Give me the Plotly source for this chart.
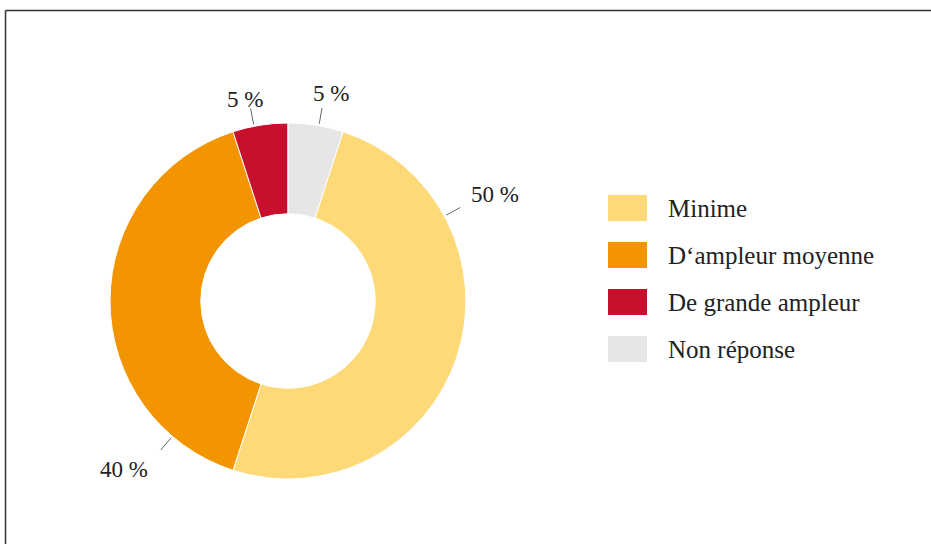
import math
import plotly.graph_objects as go

# ---- data -------------------------------------------------------------
labels = ["Minime", "D\u2018ampleur moyenne", "De grande ampleur", "Non réponse"]
values = [50, 40, 5, 5]
colors = ["#FDD978", "#F29500", "#C8102E", "#E6E6E6"]

# ---- layout constants -------------------------------------------------
W, H = 931, 544
CX, CY, R = 288, 301, 178          # ring centre and outer radius (px)
FONT = "Liberation Serif, Times New Roman, serif"
TEXT_COLOR = "#222222"

# value labels: angle (deg, clockwise from 12 o'clock) and radius of the text centre
label_angle = [62.7, 224.3, 348.0, 11.7]
label_radius = [233, 235, 206, 212]
# leader lines: angle and inner/outer radius
leader_angle = [61.5, 220.5, 349.0, 10.0]
LEADER_R0, LEADER_R1 = 180, 196

# legend block
LEG_X0, LEG_X1 = 608, 647
LEG_TEXT_X = 666
LEG_Y0, LEG_STEP, LEG_H = 208, 47, 26


def paper(x, y):
    return x / W, 1 - y / H


def polar(angle, r):
    a = math.radians(angle)
    return CX + r * math.sin(a), CY - r * math.cos(a)


total = sum(values)
# the last slice ends exactly at 12 o'clock
rotation = 360 * values[-1] / total

dx0, _ = paper(CX - R, 0)
dx1, _ = paper(CX + R, 0)
_, dy0 = paper(0, CY + R)
_, dy1 = paper(0, CY - R)

fig = go.Figure(
    go.Pie(
        labels=labels,
        values=values,
        hole=0.49,
        sort=False,
        direction="clockwise",
        rotation=rotation,
        marker=dict(colors=colors, line=dict(color="white", width=1)),
        textinfo="none",
        hoverinfo="label+percent",
        domain=dict(x=[dx0, dx1], y=[dy0, dy1]),
        showlegend=False,
    )
)

shapes = []
annotations = []

# value labels with leader lines
for v, la, lr, ang in zip(values, label_angle, label_radius, leader_angle):
    x0, y0 = paper(*polar(ang, LEADER_R0))
    x1, y1 = paper(*polar(ang, LEADER_R1))
    shapes.append(dict(type="line", xref="paper", yref="paper",
                       x0=x0, y0=y0, x1=x1, y1=y1,
                       line=dict(color="#666666", width=1)))
    tx, ty = paper(*polar(la, lr))
    annotations.append(dict(text=f"{round(100 * v / total)} %", x=tx, y=ty,
                            xref="paper", yref="paper", showarrow=False,
                            xanchor="center", yanchor="middle",
                            font=dict(family=FONT, size=23, color=TEXT_COLOR)))

# legend
for i, (lab, col) in enumerate(zip(labels, colors)):
    cy = LEG_Y0 + i * LEG_STEP
    x0, y0 = paper(LEG_X0, cy + LEG_H / 2)
    x1, y1 = paper(LEG_X1, cy - LEG_H / 2)
    shapes.append(dict(type="rect", xref="paper", yref="paper",
                       x0=x0, y0=y0, x1=x1, y1=y1,
                       fillcolor=col, line=dict(width=0)))
    tx, ty = paper(LEG_TEXT_X, cy)
    annotations.append(dict(text=lab, x=tx, y=ty, xref="paper", yref="paper",
                            showarrow=False, xanchor="left", yanchor="middle",
                            font=dict(family=FONT, size=25, color=TEXT_COLOR)))

# frame along the top and left edges
fx, fy = paper(5.5, 10.5)
shapes.append(dict(type="line", xref="paper", yref="paper",
                   x0=fx, y0=fy, x1=1, y1=fy, line=dict(color="#333333", width=1.5)))
shapes.append(dict(type="line", xref="paper", yref="paper",
                   x0=fx, y0=fy, x1=fx, y1=0, line=dict(color="#333333", width=1.5)))

fig.update_layout(
    width=W, height=H,
    margin=dict(l=0, r=0, t=0, b=0),
    paper_bgcolor="white", plot_bgcolor="white",
    shapes=shapes, annotations=annotations,
)

fig.write_html("out.html")
